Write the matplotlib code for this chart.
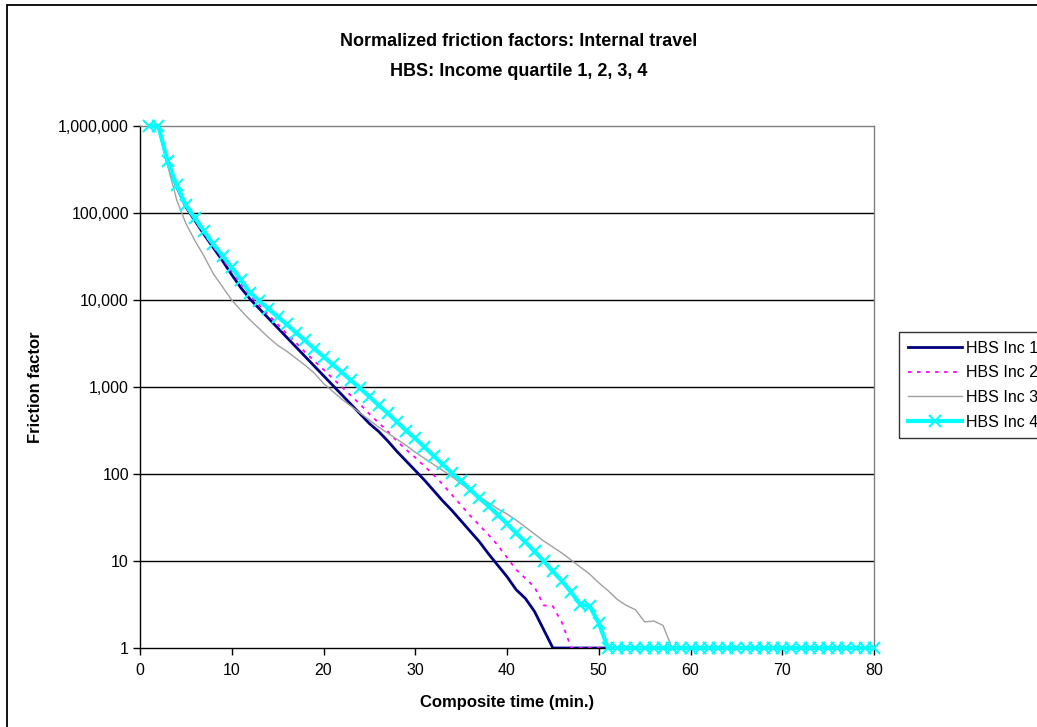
import matplotlib
matplotlib.use("Agg")
import matplotlib.pyplot as plt
from matplotlib.ticker import FixedLocator, FuncFormatter, NullLocator
from matplotlib.patches import Rectangle

plt.rcParams['font.family'] = ['Liberation Sans', 'DejaVu Sans']

# ---- data ----
minutes = list(range(1, 81))

# log10 of friction factor (t = 1..80)
inc1_log = [6.00, 6.00, 5.58, 5.30, 5.07, 4.91, 4.75, 4.60, 4.45, 4.29,
            4.14, 4.01, 3.90, 3.79, 3.68, 3.57, 3.46, 3.35, 3.24, 3.13,
            3.02, 2.91, 2.80, 2.69, 2.58, 2.49, 2.38, 2.26, 2.15, 2.04,
            1.93, 1.81, 1.69, 1.58, 1.46, 1.34, 1.22, 1.08, 0.95, 0.82,
            0.67, 0.57, 0.42, 0.21] + [0.0] * 36
inc2_log = [6.00, 6.00, 5.58, 5.30, 5.08, 4.92, 4.76, 4.61, 4.47, 4.33,
            4.19, 4.05, 3.94, 3.83, 3.72, 3.61, 3.51, 3.40, 3.30, 3.20,
            3.10, 3.00, 2.90, 2.80, 2.69, 2.59, 2.49, 2.38, 2.28, 2.19,
            2.09, 1.99, 1.88, 1.76, 1.64, 1.52, 1.41, 1.30, 1.18, 1.04,
            0.90, 0.80, 0.70, 0.49, 0.48, 0.29] + [0.0] * 34
inc3_log = [6.00, 6.00, 5.55, 5.15, 4.88, 4.68, 4.50, 4.30, 4.15, 4.00,
            3.88, 3.77, 3.67, 3.57, 3.48, 3.41, 3.33, 3.25, 3.16, 3.04,
            2.95, 2.86, 2.78, 2.70, 2.62, 2.54, 2.47, 2.40, 2.33, 2.25,
            2.18, 2.11, 2.04, 1.97, 1.89, 1.81, 1.74, 1.67, 1.60, 1.54,
            1.47, 1.39, 1.31, 1.23, 1.16, 1.09, 1.01, 0.93, 0.85, 0.75,
            0.66, 0.56, 0.49, 0.44, 0.30, 0.31, 0.26] + [0.0] * 23
inc4_log = [6.00, 6.00, 5.60, 5.32, 5.09, 4.94, 4.79, 4.64, 4.51, 4.375,
            4.23, 4.085, 3.99, 3.90, 3.81, 3.72, 3.625, 3.535, 3.44, 3.35,
            3.26, 3.17, 3.075, 2.985, 2.89, 2.79, 2.70, 2.60, 2.50, 2.41,
            2.31, 2.21, 2.11, 2.01, 1.92, 1.82, 1.72, 1.63, 1.53, 1.43,
            1.32, 1.22, 1.11, 1.00, 0.88, 0.77, 0.64, 0.50, 0.48, 0.29] + [0.0] * 30

series_names = ["HBS Inc 1", "HBS Inc 2", "HBS Inc 3", "HBS Inc 4"]
y_ticks = [1, 10, 100, 1000, 10000, 100000, 1000000]
x_ticks = [0, 10, 20, 30, 40, 50, 60, 70, 80]

inc1 = [10 ** v for v in inc1_log]
inc2 = [10 ** v for v in inc2_log]
inc3 = [10 ** v for v in inc3_log]
inc4 = [10 ** v for v in inc4_log]

W, H = 1037, 727
fig = plt.figure(figsize=(W / 100, H / 100), dpi=100)

# outer chart frame
fig.patches.append(Rectangle((7 / W, -0.1), 1.2, 1 - 5 / H + 0.1, transform=fig.transFigure,
                             fill=False, edgecolor='black', linewidth=1.3))

ax = fig.add_axes([140 / W, 1 - 648 / H, 734 / W, 522 / H])
ax.set_yscale('log')
ax.set_xlim(0, 80)
ax.set_ylim(1, 1000000)

for y in y_ticks[1:-1]:
    ax.axhline(y, color='black', linewidth=1.0, zorder=1)

ax.plot(minutes, inc1, color='#000080', linewidth=2.0, label=series_names[0], zorder=3)
ax.plot(minutes, inc2, color='#FF00FF', linewidth=1.3, linestyle=(0, (2, 3)), label=series_names[1], zorder=3)
ax.plot(minutes, inc3, color='#A0A0A0', linewidth=1.0, label=series_names[2], zorder=3)
ax.plot(minutes, inc4, color='#00FFFF', linewidth=3.0, marker='x', markersize=8,
        markeredgewidth=1.5, label=series_names[3], zorder=4, clip_on=False)

ax.yaxis.set_major_locator(FixedLocator(y_ticks))
ax.yaxis.set_minor_locator(NullLocator())
ax.yaxis.set_major_formatter(FuncFormatter(lambda v, p: f"{v:,.0f}"))
ax.xaxis.set_major_locator(FixedLocator(x_ticks))

ax.tick_params(axis='both', direction='out', length=5, width=1, labelsize=11.5, colors='black')
ax.tick_params(axis='y', pad=3)
ax.tick_params(axis='x', pad=6)

ax.spines['left'].set_color('black')
ax.spines['bottom'].set_color('black')
ax.spines['top'].set_color('#808080')
ax.spines['right'].set_color('#808080')
for s in ax.spines.values():
    s.set_linewidth(1.0)

fig.text(507 / W, 1 - 702 / H, "Composite time (min.)", fontsize=12, fontweight='bold',
         ha='center', va='center')
fig.text(35 / W, 1 - 387 / H, "Friction factor", rotation=90, fontsize=12,
         fontweight='bold', ha='center', va='center')

fig.text(0.5, 1 - 42 / H, "Normalized friction factors: Internal travel", ha='center', va='center',
         fontsize=13, fontweight='bold')
fig.text(0.5, 1 - 71 / H, "HBS: Income quartile 1, 2, 3, 4", ha='center', va='center',
         fontsize=13, fontweight='bold')

leg = fig.legend(loc='upper left', bbox_to_anchor=(899 / W, 1 - 332 / H), fontsize=11.5,
                 frameon=True, fancybox=False, edgecolor='black', handlelength=3.4,
                 handletextpad=0.25, borderpad=0.55, labelspacing=0.6, borderaxespad=0)
leg.get_frame().set_linewidth(1.0)

fig.savefig("out.png", dpi=100)
